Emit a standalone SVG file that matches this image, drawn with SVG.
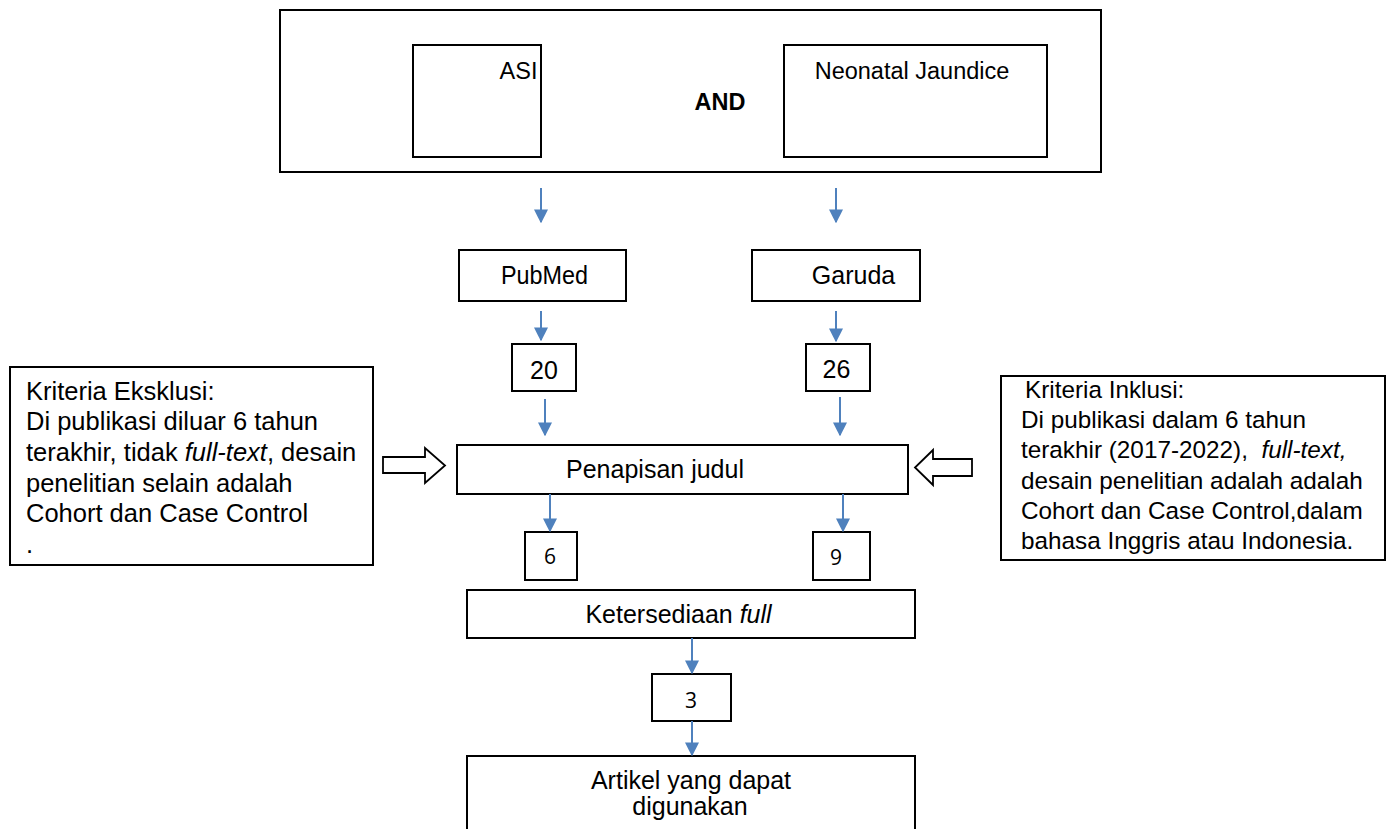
<svg xmlns="http://www.w3.org/2000/svg" width="1392" height="829" viewBox="0 0 1392 829">
<style>
.b{fill:#fff;stroke:#000;stroke-width:2}
.t{font-family:"Liberation Sans",Arial,sans-serif;font-size:25px;fill:#000}
.s{font-size:23.5px}
.e{font-size:25.5px}
.i{font-size:24.3px}
.c{text-anchor:middle}
.n{font-family:"Open Sans","Noto Sans",sans-serif;font-size:21px;fill:#000;text-anchor:middle}
.a{stroke:#4f81bd;stroke-width:2;fill:none}
.h{fill:#fff;stroke:#000;stroke-width:1.8}
</style>
<defs>
<marker id="ah" viewBox="0 0 10 10" refX="9" refY="5" markerWidth="7" markerHeight="7" orient="auto" markerUnits="strokeWidth">
<path d="M0,0 L10,5 L0,10 z" fill="#4f81bd"/>
</marker>
</defs>
<rect width="1392" height="829" fill="#fff"/>
<g id="search">
<rect class="b" x="280" y="10" width="821" height="162"/>
<text class="t s" x="720" y="110" font-weight="bold" text-anchor="middle">AND</text>
</g>
<g id="asi"><rect class="b" x="413" y="45" width="128" height="112"/><text class="t s c" x="518.5" y="79">ASI</text></g>
<g id="neonatal"><rect class="b" x="784" y="45" width="263" height="112"/><text class="t s c" x="912" y="79">Neonatal Jaundice</text></g>
<g id="pubmed"><rect class="b" x="459" y="250" width="167" height="51"/><text class="t c" x="544.5" y="284" textLength="87" lengthAdjust="spacingAndGlyphs">PubMed</text></g>
<g id="garuda"><rect class="b" x="752" y="250" width="168" height="51"/><text class="t c" x="853.5" y="284">Garuda</text></g>
<g id="n20"><rect class="b" x="512" y="344" width="64" height="47"/><text class="t c" x="544" y="379">20</text></g>
<g id="n26"><rect class="b" x="806" y="344" width="64" height="47"/><text class="t c" x="836.5" y="378">26</text></g>
<g id="penapisan"><rect class="b" x="457" y="445" width="451" height="49"/><text class="t c" x="655" y="478">Penapisan judul</text></g>
<g id="eksklusi"><rect class="b" x="10" y="367" width="363" height="198"/>
<text class="t e" x="26" y="400">Kriteria Eksklusi:</text>
<text class="t e" x="26" y="430">Di publikasi diluar 6 tahun</text>
<text class="t e" x="26" y="461">terakhir, tidak <tspan font-style="italic">full-text</tspan>, desain</text>
<text class="t e" x="26" y="492">penelitian selain adalah</text>
<text class="t e" x="26" y="522">Cohort dan Case Control</text>
<text class="t e" x="26" y="553">.</text>
</g>
<g id="inklusi"><rect class="b" x="1001" y="376" width="384" height="184"/>
<text class="t i" x="1025" y="398">Kriteria Inklusi:</text>
<text class="t i" x="1021" y="428">Di publikasi dalam 6 tahun</text>
<text class="t i" x="1021" y="458" xml:space="preserve">terakhir (2017-2022),  <tspan font-style="italic">full-text,</tspan></text>
<text class="t i" x="1021" y="489">desain penelitian adalah adalah</text>
<text class="t i" x="1021" y="519">Cohort dan Case Control,dalam</text>
<text class="t i" x="1021" y="549">bahasa Inggris atau Indonesia.</text>
</g>
<g id="n6"><rect class="b" x="525" y="532" width="52" height="48"/><text class="n" x="550" y="564">6</text></g>
<g id="n9"><rect class="b" x="813" y="532" width="57" height="48"/><text class="n" x="836" y="565">9</text></g>
<g id="ketersediaan"><rect class="b" x="467" y="590" width="448" height="48"/><text class="t c" x="678.5" y="623">Ketersediaan <tspan font-style="italic">full</tspan></text></g>
<g id="n3"><rect class="b" x="652" y="674" width="79" height="47"/><text class="n" x="691" y="708">3</text></g>
<g id="artikel"><path class="b" d="M467,840 V756 H915 V840"/>
<text class="t c" x="691" y="789">Artikel yang dapat</text>
<text class="t c" x="690" y="815">digunakan</text></g>
<g id="connectors">
<line class="a" x1="541" y1="188" x2="541" y2="222" marker-end="url(#ah)"/>
<line class="a" x1="836" y1="188" x2="836" y2="222" marker-end="url(#ah)"/>
<line class="a" x1="541" y1="311" x2="541" y2="340" marker-end="url(#ah)"/>
<line class="a" x1="836" y1="311" x2="836" y2="341" marker-end="url(#ah)"/>
<line class="a" x1="545" y1="399" x2="545" y2="435" marker-end="url(#ah)"/>
<line class="a" x1="840" y1="397" x2="840" y2="435" marker-end="url(#ah)"/>
<line class="a" x1="550" y1="494" x2="550" y2="531" marker-end="url(#ah)"/>
<line class="a" x1="843" y1="494" x2="843" y2="531" marker-end="url(#ah)"/>
<line class="a" x1="692" y1="638" x2="692" y2="673" marker-end="url(#ah)"/>
<line class="a" x1="692" y1="721" x2="692" y2="755" marker-end="url(#ah)"/>
<path class="h" d="M383,457 H425 V448 L445,465.5 L425,483 V473 H383 Z"/>
<path class="h" d="M972,459 H933 V450 L915,467.5 L933,485 V476 H972 Z"/>
</g>
</svg>
